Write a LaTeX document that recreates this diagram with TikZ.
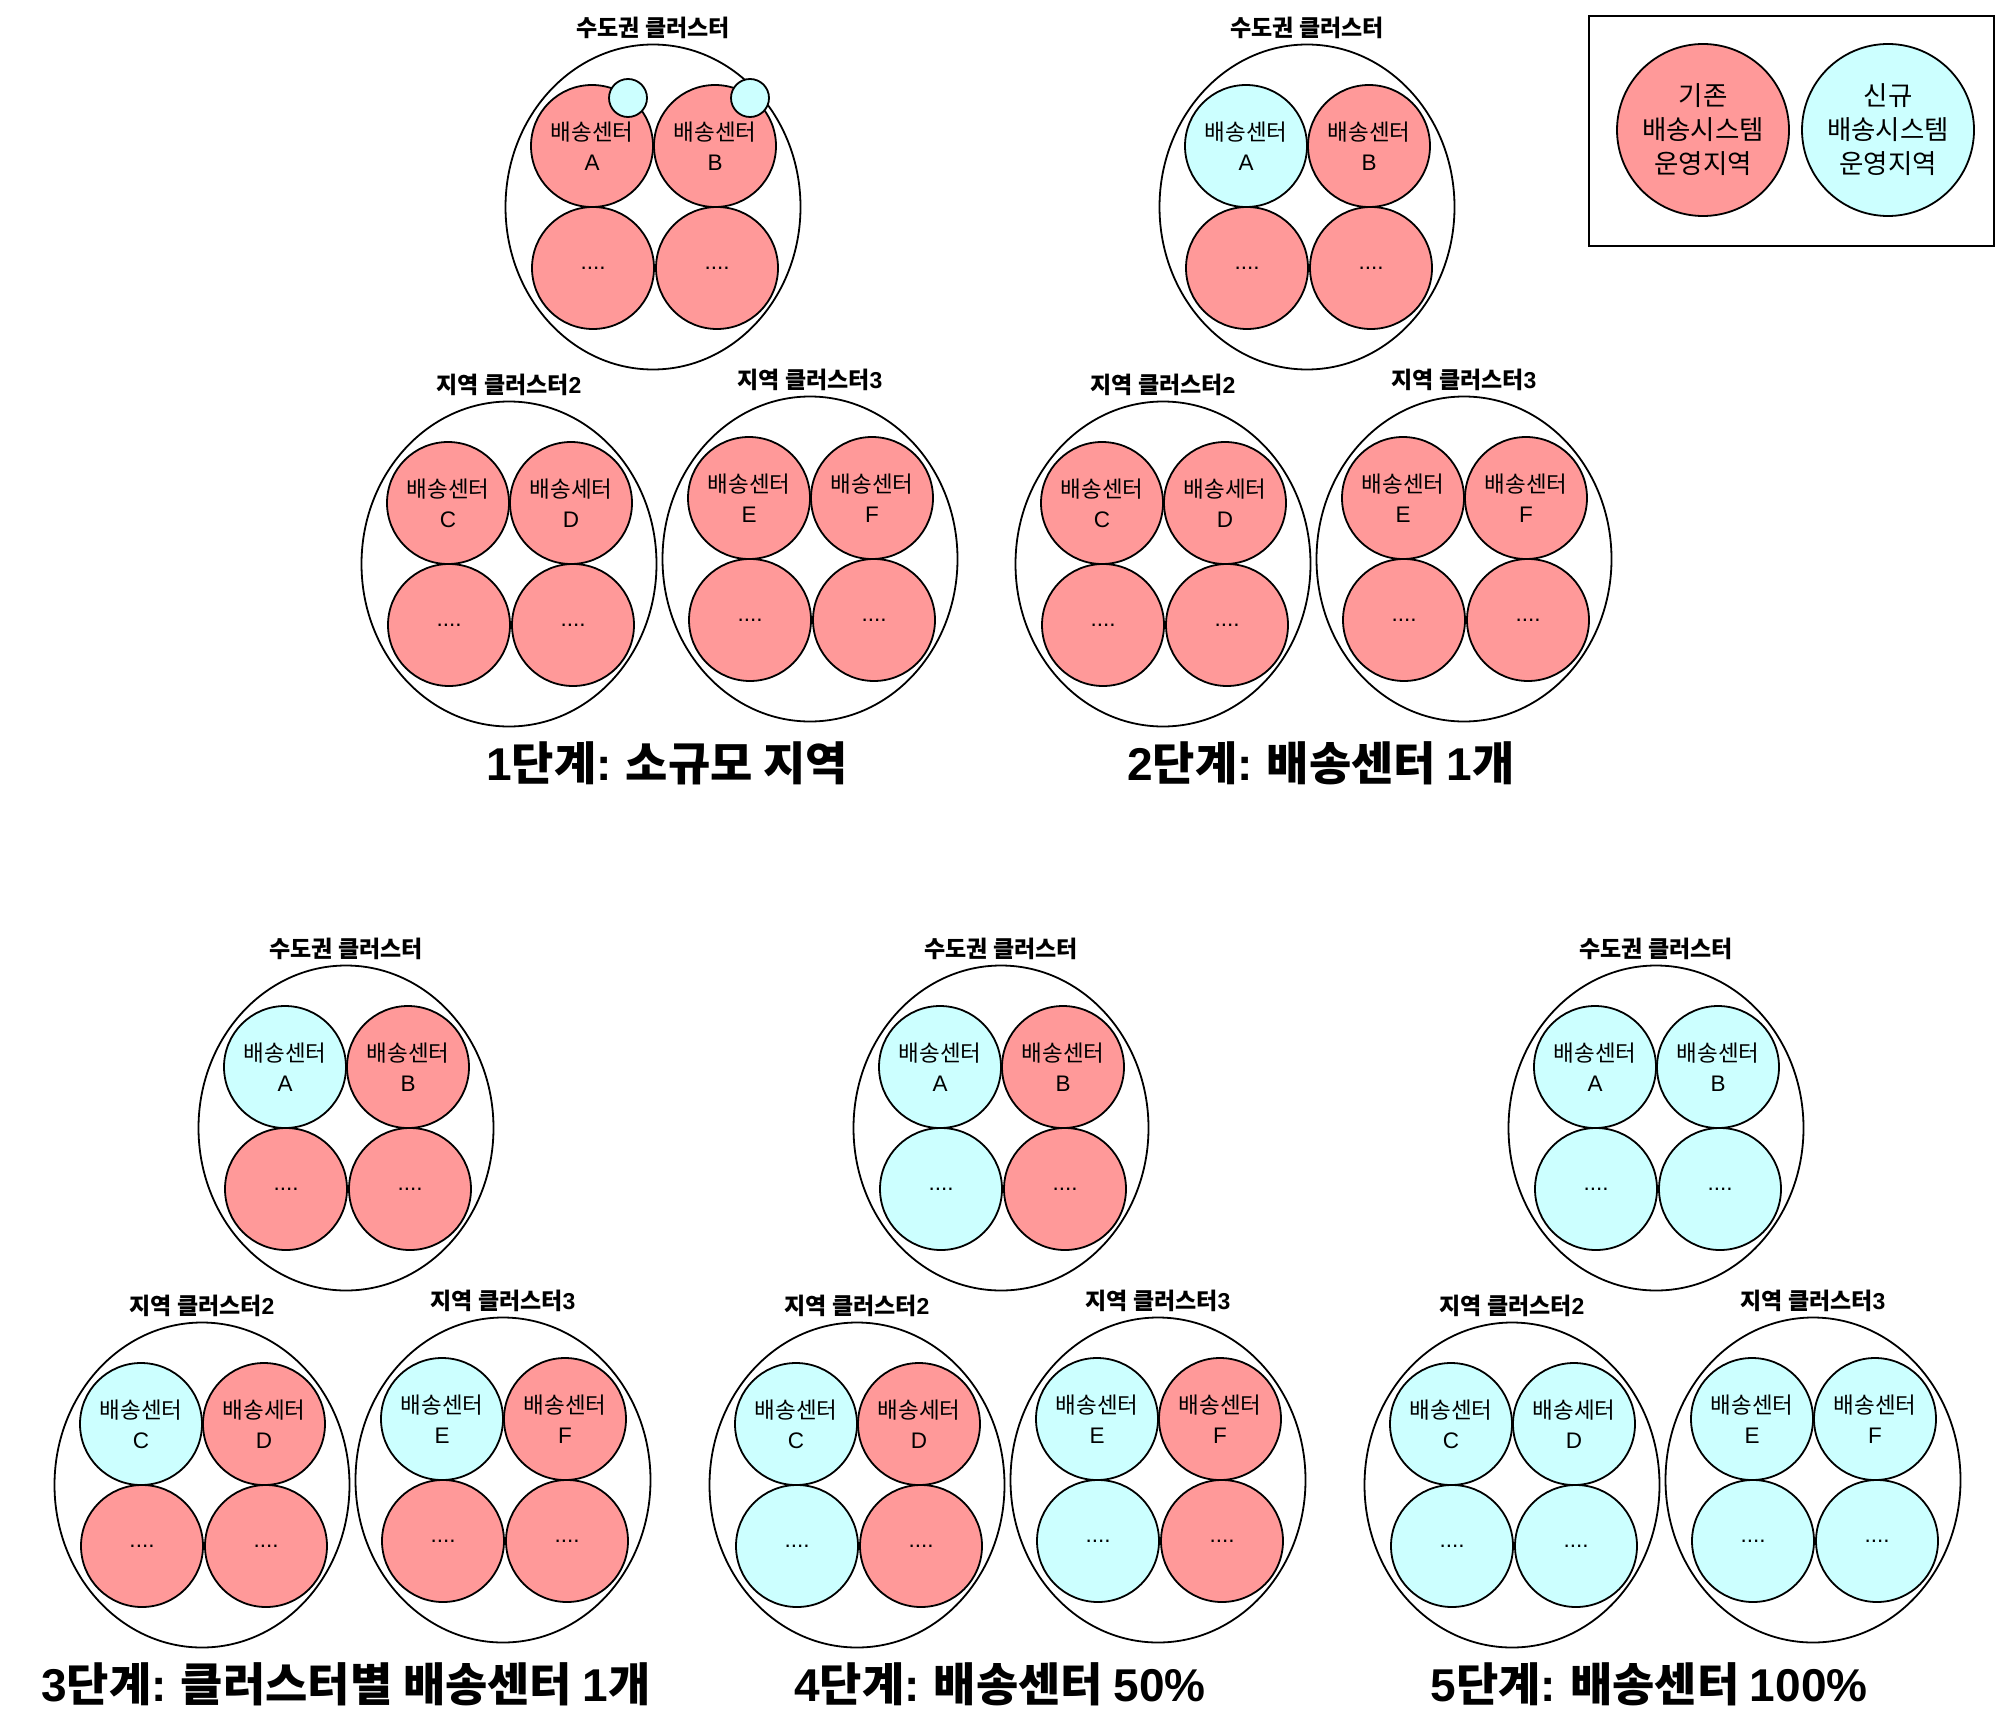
\documentclass[tikz,border=0pt]{standalone}
\usepackage{fontspec}
\setmainfont{Noto Sans CJK KR}
\newfontfamily\lat{Liberation Sans}
\usetikzlibrary{shapes.geometric}
\definecolor{oldc}{HTML}{FF9999}
\definecolor{newc}{HTML}{CCFFFF}
\tikzset{
 every node/.style={font=\fontsize{22.5}{30}\selectfont, align=center},
 clus/.style={ellipse, draw, line width=1.8pt, minimum width=295pt, minimum height=325pt, inner sep=0pt},
 dc/.style={circle, draw, line width=1.8pt, minimum size=122pt, inner sep=0pt, fill=#1},
 ctitle/.style={font=\bfseries\fontsize{23}{26}\selectfont},
 stitle/.style={font=\bfseries\fontsize{46}{52}\selectfont},
 mini/.style={circle, draw, line width=1.8pt, minimum size=38pt, inner sep=0pt, fill=newc},
 legc/.style={circle, draw, line width=1.8pt, minimum size=172pt, inner sep=0pt, font=\fontsize{26.5}{34}\selectfont, fill=#1},
 legbox/.style={draw, line width=1.8pt, minimum width=405pt, minimum height=230pt, inner sep=0pt},
}
\newcommand\clusterdraw[9]{%
\begin{scope}[shift={#2}]
\node[clus] (#1) at (0,0) {};
\node[ctitle] (#1-t) at (0,-179) {#3};
\node[dc=#4] (#1-a) at (-61,-61) {#8};
\node[dc=#5] (#1-b) at (62,-61) {#9};
\node[dc=#6] (#1-c) at (-60,61) {{\lat ....}};
\node[dc=#7] (#1-d) at (64,61) {{\lat ....}};
\end{scope}}
\newcommand\bs[1]{배송센터\\{\lat #1}}
\newcommand\bsd{배송세터\\{\lat D}}
\newcommand\sdk{수도권 클러스터}
\newcommand\jy[1]{지역 클러스터{\lat #1}}
\begin{document}
\begin{tikzpicture}[x=1pt,y=-1pt]
\fill[white] (0,0) rectangle (2012,1736);
\useasboundingbox (0,0) rectangle (2012,1736);
% legend
\node[legbox] (leg) at (1791.5,131) {};
\node[legc=oldc] (leg-old) at (1703,130) {기존\\배송시스템\\운영지역};
\node[legc=newc] (leg-new) at (1888,130) {신규\\배송시스템\\운영지역};
% stage 1
\clusterdraw{s1t}{(653,207)}{\sdk}{oldc}{oldc}{oldc}{oldc}{\bs{A}}{\bs{B}}
\node[mini] (s1t-am) at (628,98) {};
\node[mini] (s1t-bm) at (750,98) {};
\clusterdraw{s1c2}{(509,564)}{\jy{2}}{oldc}{oldc}{oldc}{oldc}{\bs{C}}{\bsd}
\clusterdraw{s1c3}{(810,559)}{\jy{3}}{oldc}{oldc}{oldc}{oldc}{\bs{E}}{\bs{F}}
\node[stitle] (st1) at (667,763) {{\lat 1}단계{\lat :} 소규모 지역};
% stage 2
\clusterdraw{s2t}{(1307,207)}{\sdk}{newc}{oldc}{oldc}{oldc}{\bs{A}}{\bs{B}}
\clusterdraw{s2c2}{(1163,564)}{\jy{2}}{oldc}{oldc}{oldc}{oldc}{\bs{C}}{\bsd}
\clusterdraw{s2c3}{(1464,559)}{\jy{3}}{oldc}{oldc}{oldc}{oldc}{\bs{E}}{\bs{F}}
\node[stitle] (st2) at (1321,763) {{\lat 2}단계{\lat :} 배송센터 {\lat 1}개};
% stage 3
\clusterdraw{s3t}{(346,1128)}{\sdk}{newc}{oldc}{oldc}{oldc}{\bs{A}}{\bs{B}}
\clusterdraw{s3c2}{(202,1485)}{\jy{2}}{newc}{oldc}{oldc}{oldc}{\bs{C}}{\bsd}
\clusterdraw{s3c3}{(503,1480)}{\jy{3}}{newc}{oldc}{oldc}{oldc}{\bs{E}}{\bs{F}}
\node[stitle] (st3) at (346,1684) {{\lat 3}단계{\lat :} 클러스터별 배송센터 {\lat 1}개};
% stage 4
\clusterdraw{s4t}{(1001,1128)}{\sdk}{newc}{oldc}{newc}{oldc}{\bs{A}}{\bs{B}}
\clusterdraw{s4c2}{(857,1485)}{\jy{2}}{newc}{oldc}{newc}{oldc}{\bs{C}}{\bsd}
\clusterdraw{s4c3}{(1158,1480)}{\jy{3}}{newc}{oldc}{newc}{oldc}{\bs{E}}{\bs{F}}
\node[stitle] (st4) at (1000,1684) {{\lat 4}단계{\lat :} 배송센터 {\lat 50\%}};
% stage 5
\clusterdraw{s5t}{(1656,1128)}{\sdk}{newc}{newc}{newc}{newc}{\bs{A}}{\bs{B}}
\clusterdraw{s5c2}{(1512,1485)}{\jy{2}}{newc}{newc}{newc}{newc}{\bs{C}}{\bsd}
\clusterdraw{s5c3}{(1813,1480)}{\jy{3}}{newc}{newc}{newc}{newc}{\bs{E}}{\bs{F}}
\node[stitle] (st5) at (1649,1684) {{\lat 5}단계{\lat :} 배송센터 {\lat 100\%}};
\end{tikzpicture}
\end{document}
